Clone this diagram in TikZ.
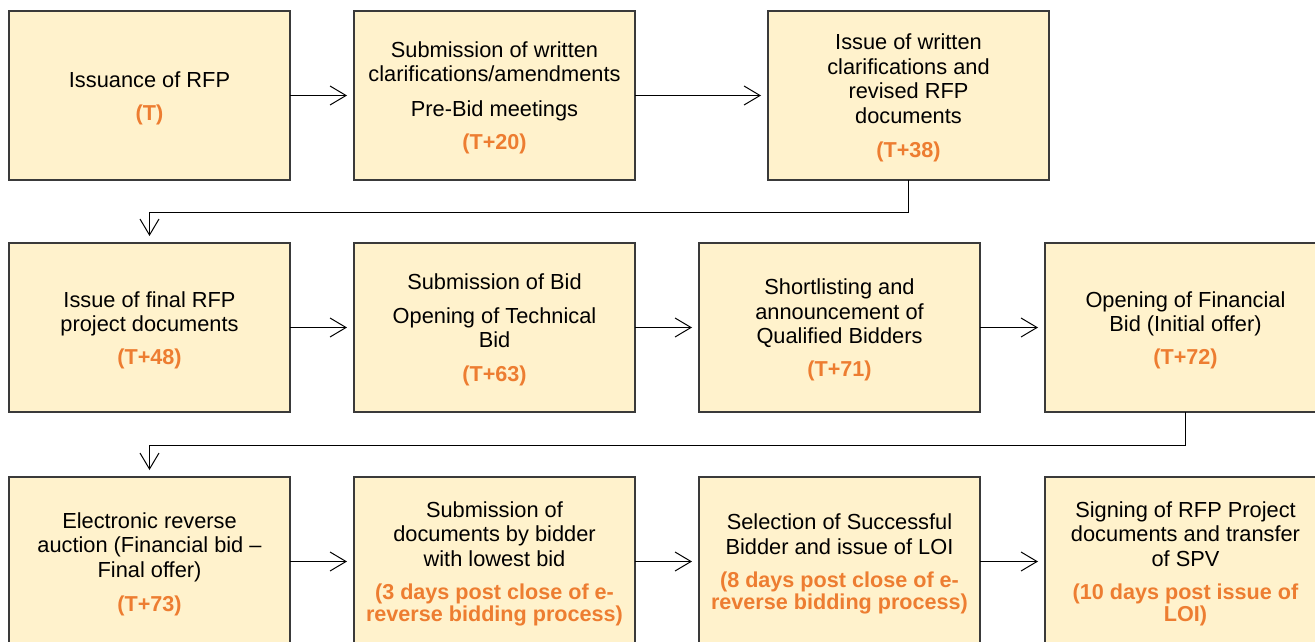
\documentclass[tikz,border=0pt]{standalone}
\usepackage{fontspec}
\setmainfont{Liberation Sans}
\usetikzlibrary{arrows.meta}
\definecolor{boxfill}{HTML}{FFF2CC}
\definecolor{dateorange}{HTML}{ED7D31}
\definecolor{boxline}{HTML}{3A3A3A}
\newcommand{\dt}[1]{{\color{dateorange}\bfseries\fontsize{21.6}{22}\selectfont #1}}
\tikzset{
  stagebox/.style={draw=boxline, line width=1.3pt, fill=boxfill, minimum width=281pt, minimum height=169pt, inner sep=0pt, outer sep=0pt},
  stagetext/.style={align=center, inner sep=0pt, yshift=-2.5pt, font=\fontsize{21.8}{24.5}\selectfont, text=black},
  arr/.style={line width=1pt, draw=black, -{Straight Barb[length=16pt,width=19pt,line width=1pt]}, shorten >=7pt}
}
\begin{document}
\begin{tikzpicture}[x=1pt,y=-1pt]
\fill[white] (0,0) rectangle (1315,642);
\useasboundingbox (0,0) rectangle (1315,642);
% row 1
\node[stagebox] (b1) at (149.5,95.5) {};
\node[stagebox] (b2) at (494.5,95.5) {};
\node[stagebox] (b3) at (908.5,95.5) {};
% row 2
\node[stagebox] (b4) at (149.5,327.5) {};
\node[stagebox] (b5) at (494.5,327.5) {};
\node[stagebox] (b6) at (839.5,327.5) {};
\node[stagebox] (b7) at (1185.5,327.5) {};
% row 3
\node[stagebox] (b8) at (149.5,561.5) {};
\node[stagebox] (b9) at (494.5,561.5) {};
\node[stagebox] (b10) at (839.5,561.5) {};
\node[stagebox] (b11) at (1185.5,561.5) {};
% texts
\node[stagetext] (t1) at (b1.center) {Issuance of RFP\\[8.5pt]\dt{(T)}};
\node[stagetext] (t2) at (b2.center) {Submission of written\\clarifications/amendments\\[10.5pt]Pre-Bid meetings\\[8.5pt]\dt{(T+20)}};
\node[stagetext] (t3) at (b3.center) {Issue of written\\clarifications and\\revised RFP\\documents\\[9.5pt]\dt{(T+38)}};
\node[stagetext] (t4) at (b4.center) {Issue of final RFP\\project documents\\[8pt]\dt{(T+48)}};
\node[stagetext] (t5) at (b5.center) {Submission of Bid\\[9.5pt]Opening of Technical\\Bid\\[9.5pt]\dt{(T+63)}};
\node[stagetext] (t6) at (b6.center) {Shortlisting and\\announcement of\\Qualified Bidders\\[8.5pt]\dt{(T+71)}};
\node[stagetext] (t7) at (b7.center) {Opening of Financial\\Bid (Initial offer)\\[8pt]\dt{(T+72)}};
\node[stagetext] (t8) at (b8.center) {Electronic reverse\\auction (Financial bid –\\Final offer)\\[9.5pt]\dt{(T+73)}};
\node[stagetext] (t9) at (b9.center) {Submission of\\documents by bidder\\with lowest bid\\[9pt]\dt{(3 days post close of e-}\\[-2.5pt]\dt{reverse bidding process)}};
\node[stagetext] (t10) at (b10.center) {Selection of Successful\\Bidder and issue of LOI\\[9pt]\dt{(8 days post close of e-}\\[-2.5pt]\dt{reverse bidding process)}};
\node[stagetext] (t11) at (b11.center) {Signing of RFP Project\\documents and transfer\\of SPV\\[9pt]\dt{(10 days post issue of}\\[-2.5pt]\dt{LOI)}};
% connectors
\draw[arr] (b1) -- (b2);
\draw[arr] (b2) -- (b3);
\draw[arr] (b3.south) -- ++(0,32) -| (b4.north);
\draw[arr] (b4) -- (b5);
\draw[arr] (b5) -- (b6);
\draw[arr] (b6) -- (b7);
\draw[arr] (b7.south) -- ++(0,33) -| (b8.north);
\draw[arr] (b8) -- (b9);
\draw[arr] (b9) -- (b10);
\draw[arr] (b10) -- (b11);
\end{tikzpicture}
\end{document}
